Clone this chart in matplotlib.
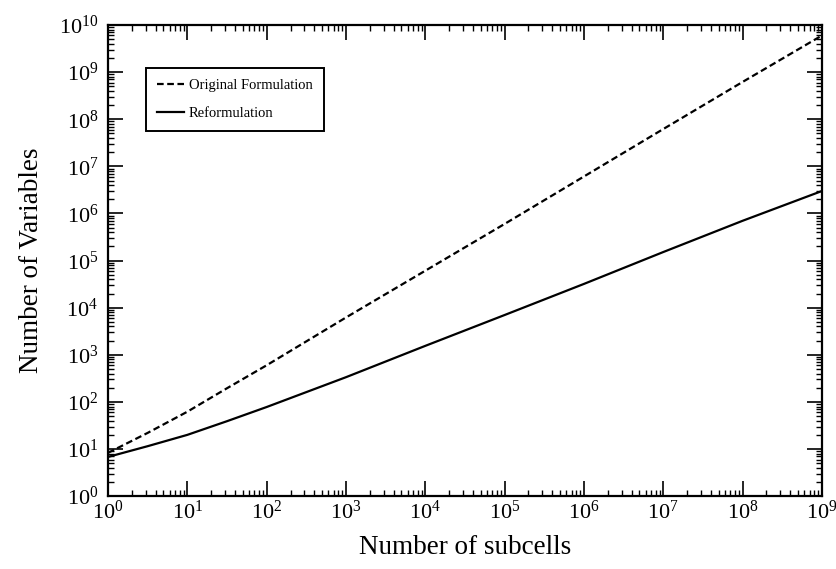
import numpy as np
import matplotlib
matplotlib.use("Agg")
from matplotlib import pyplot as plt
from matplotlib.ticker import LogLocator, LogFormatterMathtext, NullFormatter

plt.rcParams['font.family'] = ['Liberation Serif', 'DejaVu Serif']
plt.rcParams['mathtext.fontset'] = 'custom'
plt.rcParams['mathtext.rm'] = 'Liberation Serif'
plt.rcParams['mathtext.it'] = 'Liberation Serif:italic'
plt.rcParams['mathtext.bf'] = 'Liberation Serif:bold'

# number of subcells (decades, with half decades near the start)
subcells = [1e0, 3.16, 1e1, 31.6, 1e2, 1e3, 1e4, 1e5, 1e6, 1e7, 1e8, 1e9]
# number of variables for each formulation
original = [8.3, 22, 62, 195, 600, 6.2e3, 6.1e4, 6.0e5, 6.1e6, 6.2e7, 6.2e8, 6.0e9]
reform = [6.8, 11.5, 20, 39, 78, 335, 1.55e3, 7.0e3, 3.2e4, 1.52e5, 7.0e5, 3.0e6]

fig = plt.figure(figsize=(8.37, 5.69), dpi=100)
ax = fig.add_axes([0.129, 0.128, 0.853, 0.828])

ax.plot(subcells, original, color='black', lw=1.6, dashes=(3, 1.6),
        label='Original Formulation')
ax.plot(subcells, reform, color='black', lw=1.6, label='Reformulation')

ax.set_xscale('log')
ax.set_yscale('log')
ax.set_xlim(1e0, 1e9)
ax.set_ylim(1e0, 1e10)

for axis in (ax.xaxis, ax.yaxis):
    axis.set_major_locator(LogLocator(base=10, numticks=30))
    axis.set_minor_locator(LogLocator(base=10, subs=np.arange(2, 10), numticks=300))
    axis.set_major_formatter(LogFormatterMathtext())
    axis.set_minor_formatter(NullFormatter())

ax.tick_params(which='both', direction='in', top=True, right=True, color='black')
ax.tick_params(which='major', length=11, width=1.2, labelsize=16)
ax.tick_params(which='minor', length=4, width=1.0)
ax.tick_params(axis='x', which='major', pad=3)
ax.tick_params(axis='y', which='major', pad=7)

for sp in ax.spines.values():
    sp.set_linewidth(1.6)

ax.set_xlabel('Number of subcells', fontsize=19.5, labelpad=8)
ax.set_ylabel('Number of Variables', fontsize=19.5, labelpad=11)

leg = ax.legend(loc='upper left', bbox_to_anchor=(0.053, 0.909), borderaxespad=0,
                fontsize=10.5, handlelength=1.9, handletextpad=0.3,
                fancybox=False, framealpha=1, edgecolor='black',
                borderpad=0.75, labelspacing=1.0)
leg.get_frame().set_linewidth(1.4)

fig.savefig('out.png', dpi=100)
